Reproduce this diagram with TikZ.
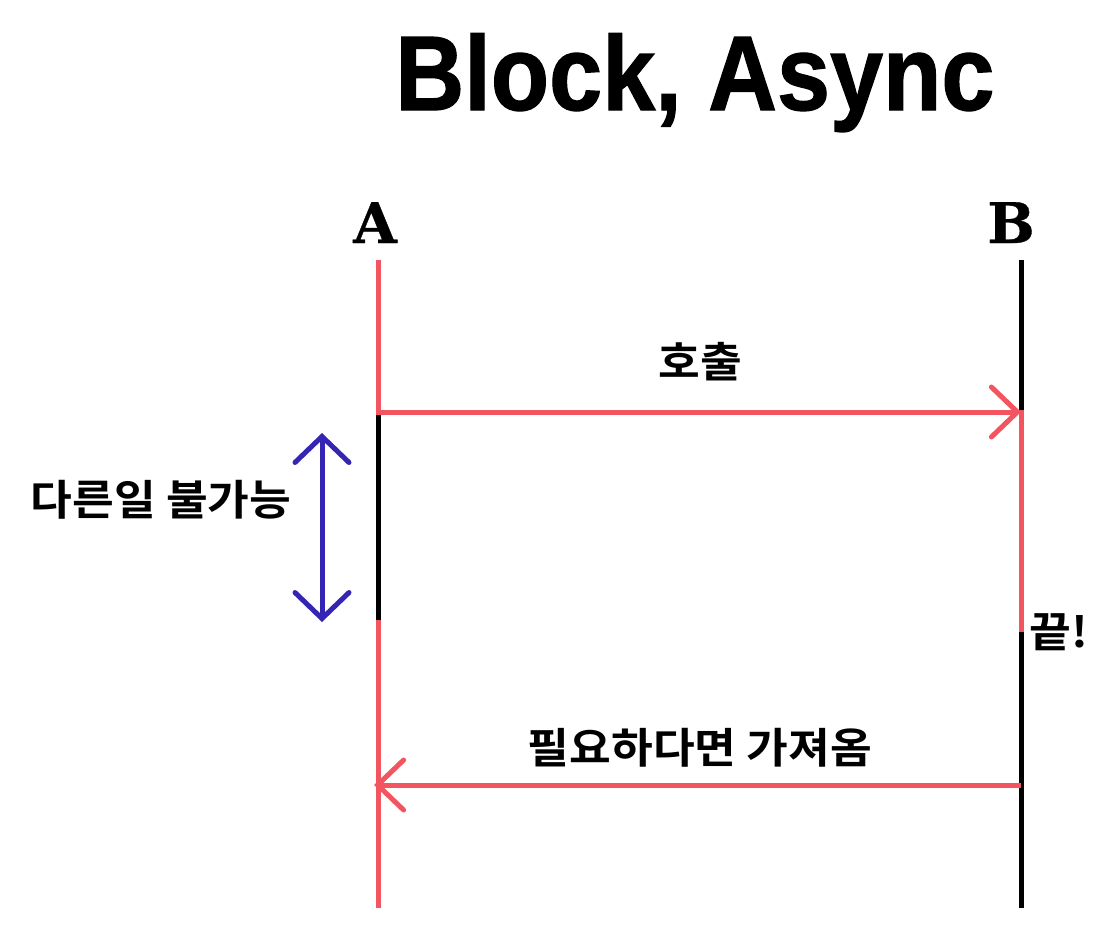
\documentclass[tikz,border=0pt]{standalone}
\usepackage{fontspec}
\setmainfont{Liberation Sans}
\newfontfamily\titlefont{Liberation Sans Bold}[FakeBold=1.2]
\newfontfamily\kr{Noto Sans CJK KR}[BoldFont={* Bold}]
\newfontfamily\slab{DejaVu Serif}[BoldFont={* Bold}, BoldFeatures={FakeBold=0.6}]
\usetikzlibrary{arrows.meta}
\definecolor{lred}{RGB}{242,84,96}
\definecolor{lblue}{RGB}{52,38,178}
\newcommand{\krtext}[1]{\scalebox{1.08}[1]{#1}}
\tikzset{
  seg/.style={line width=5pt},
  msg/.style={line width=5pt, draw=lred, -{Straight Barb[length=26pt,width=50pt,line width=5pt,line cap=round]}},
  span/.style={line width=5pt, draw=lblue, {Straight Barb[length=26pt,width=54pt,line width=5pt,line cap=round]}-{Straight Barb[length=26pt,width=54pt,line width=5pt,line cap=round]}},
  lbl/.style={font=\kr\bfseries\fontsize{42}{46}\selectfont, inner sep=0pt},
  head/.style={font=\slab\bfseries\fontsize{56}{60}\selectfont, inner sep=0pt, anchor=base},
}
\begin{document}
\begin{tikzpicture}[x=1pt,y=-1pt]
\useasboundingbox[fill=white] (0,0) rectangle (1104,938);
% title
\node[font=\titlefont\fontsize{106}{110}\selectfont, anchor=base, inner sep=0pt] (title) at (695,110) {\scalebox{0.9}[1]{Block, Async}};
% heads
\node[head] (A) at (375,243) {A};
\node[head] (B) at (1011,243) {B};
% lifeline coordinates
\coordinate (a0) at (378,260);
\coordinate (a1) at (378,415);
\coordinate (a2) at (378,620);
\coordinate (a3) at (378,908);
\coordinate (b0) at (1021,260);
\coordinate (b1) at (1021,410);
\coordinate (b2) at (1021,632);
\coordinate (b3) at (1021,908);
\draw[seg, lred] (a0) -- (a1);
\draw[seg, black] (a1) -- (a2);
\draw[seg, lred] (a2) -- (a3);
\draw[seg, black] (b0) -- (b1);
\draw[seg, lred] (b1) -- (b2);
\draw[seg, black] (b2) -- (b3);
% messages
\coordinate (m1s) at (378,412);
\coordinate (m1e) at (1021,412);
\coordinate (m2s) at (1021,785);
\coordinate (m2e) at (374,785);
\draw[msg] (m1s) -- (m1e);
\draw[msg] (m2s) -- (m2e);
\node[lbl] (call) at (700,362) {\krtext{호출}};
\node[lbl] (fetch) at (700,748) {\krtext{필요하다면 가져옴}};
% blocking span
\coordinate (s0) at (322,433);
\coordinate (s1) at (322,622);
\draw[span] (s0) -- (s1);
\node[lbl] (busy) at (161,500) {\krtext{다른일 불가능}};
\node[lbl] (done) at (1059,632) {\krtext{끝!}};
\end{tikzpicture}
\end{document}
